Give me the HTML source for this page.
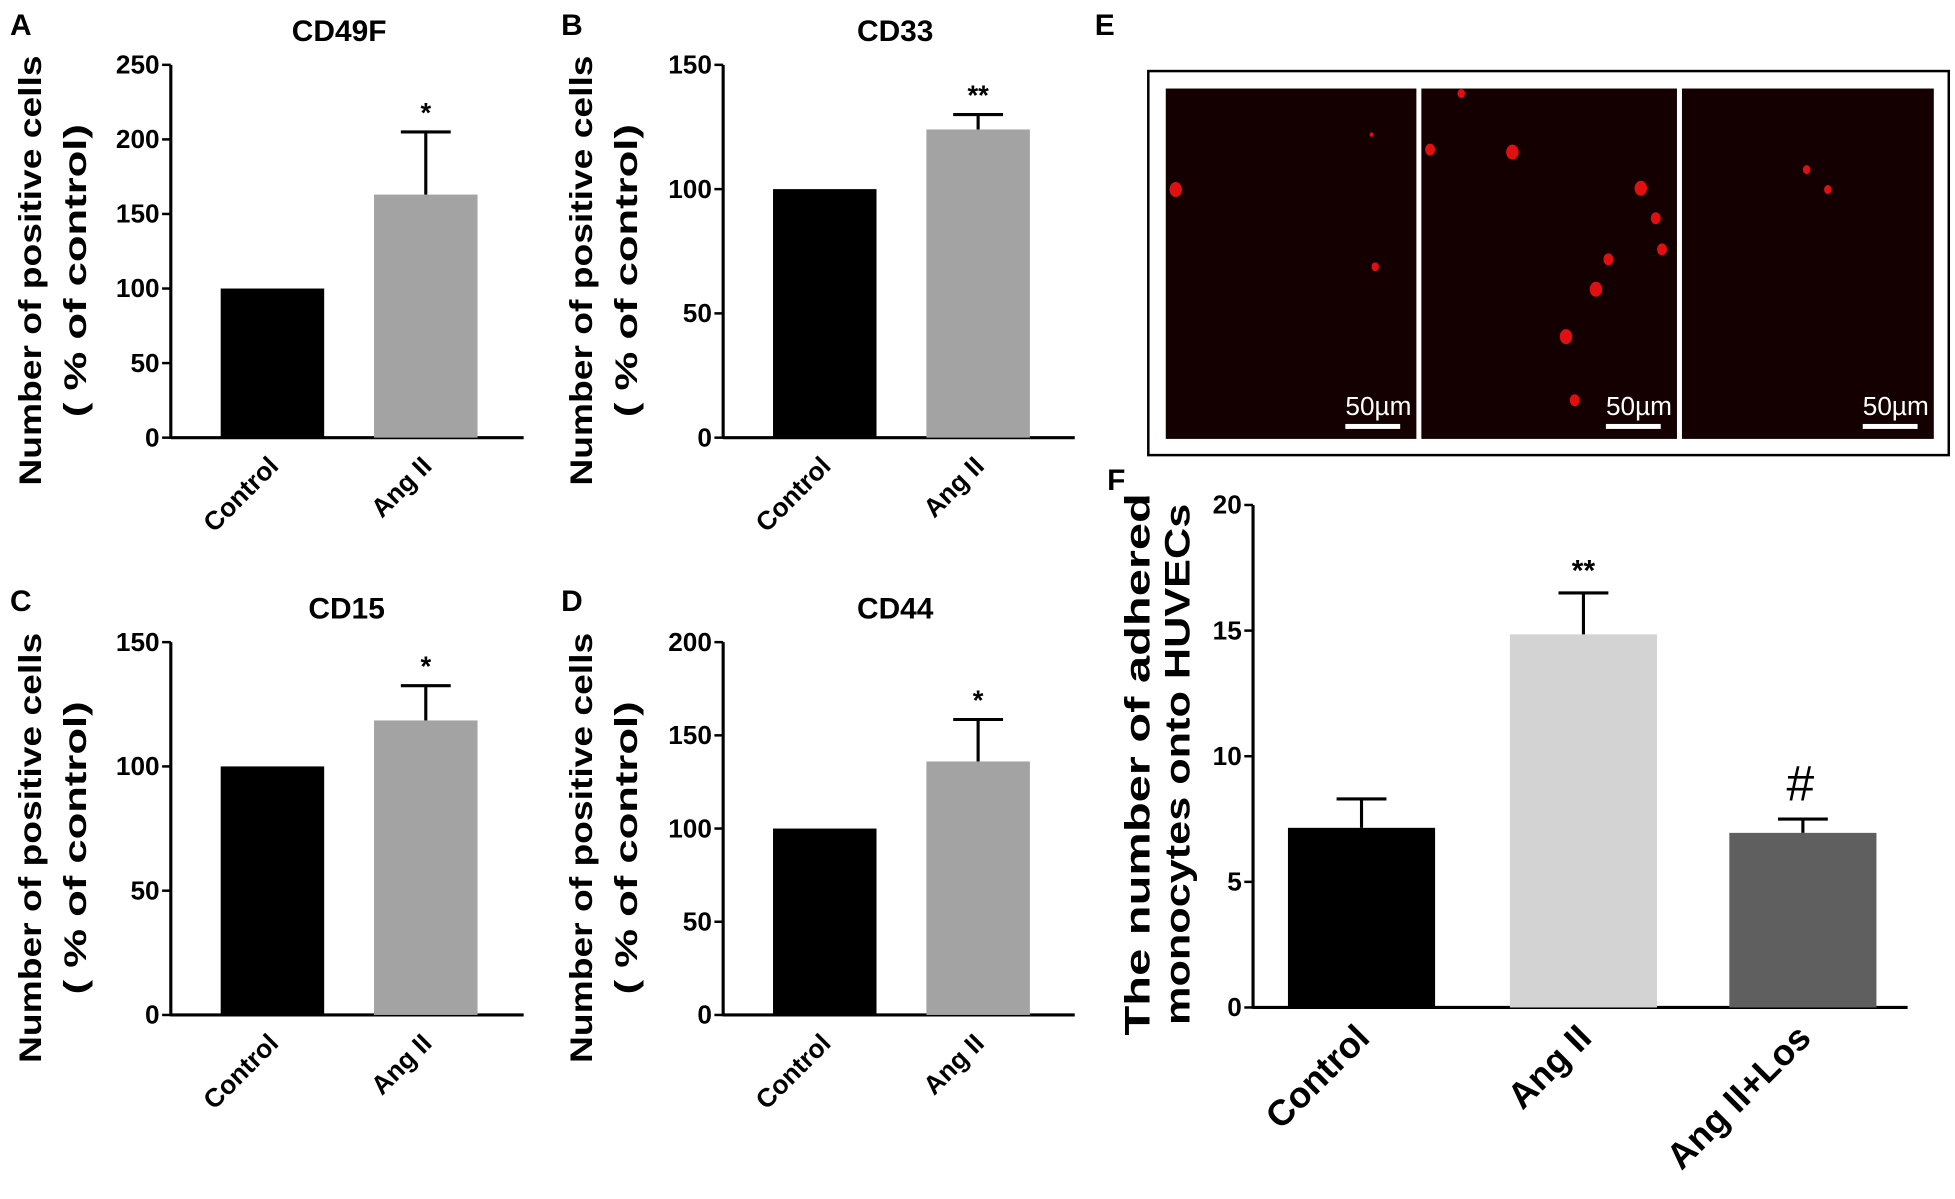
<!DOCTYPE html>
<html><head><meta charset="utf-8"><style>
html,body{margin:0;padding:0;background:#fff;}
svg{display:block;font-family:"Liberation Sans",Arial,sans-serif;font-weight:bold;}
</style></head><body>
<svg id="fig" width="1955" height="1199" viewBox="0 0 1568 961.6" preserveAspectRatio="none">
<g id="panelE">
<rect x="921" y="57" width="642" height="308" fill="none" stroke="#000" stroke-width="2"/>
</g>
</svg>
<script>
// ---- data ----
const catsAB = ["Control", "Ang II"];
const valsA = [100, 163];
const errA = [0, 205];
const ticksA = [0, 50, 100, 150, 200, 250];
const valsB = [100, 124];
const errB = [0, 130];
const ticksB = [0, 50, 100, 150];
const valsC = [100, 118.5];
const errC = [0, 132.5];
const ticksC = [0, 50, 100, 150];
const valsD = [100, 136];
const errD = [0, 158.5];
const ticksD = [0, 50, 100, 150, 200];
const catsF = ["Control", "Ang II", "Ang II+Los"];
const valsF = [7.15, 14.85, 6.95];
const errF = [8.3, 16.5, 7.5];
const ticksF = [0, 5, 10, 15, 20];

const NS = "http://www.w3.org/2000/svg";
const svg = document.getElementById('fig');
function mk(tag, attrs, parent, text) {
  const e = document.createElementNS(NS, tag);
  for (const k in attrs) e.setAttribute(k, attrs[k]);
  if (text !== undefined) e.textContent = text;
  (parent || svg).appendChild(e);
  return e;
}

function panel(o) {
  const g = mk('g', {});
  
  
  const y = v => o.y0 - (v / o.max) * (o.y0 - o.y1);
  const l = mk('text', {x: o.lx, y: o.ly, 'font-size': 24}, g, o.letter);
  
  
  if (o.title) {
    const t = mk('text', {x: o.tx, y: o.ty, 'font-size': 24, 'text-anchor': 'middle'}, g, o.title);
    
    
  }
  const ya = mk('line', {x1: o.ax, x2: o.ax, y1: o.y1, y2: o.y0 + 1, stroke: '#000', 'stroke-width': 2.5}, g);
  
  
  const xa = mk('line', {x1: o.ax, x2: o.xend, y1: o.y0, y2: o.y0, stroke: '#000', 'stroke-width': 2.5}, g);
  
  
  o.ticks.forEach(t => {
    const tl = mk('line', {x1: o.ax - 7, x2: o.ax, y1: y(t), y2: y(t), stroke: '#000', 'stroke-width': 2}, g);
    
    
    const tt = mk('text', {x: o.ax - 9, y: y(t) + 7, 'font-size': o.tfs, 'text-anchor': 'end'}, g, String(t));
    
    
  });
  o.vals.forEach((v, i) => {
    const bx = o.bx[i];
    const r = mk('rect', {x: bx, y: y(v), width: o.bw, height: o.y0 - y(v), fill: o.colors[i]}, g);
    
    
    if (o.err[i] > v) {
      const cx = bx + o.bw / 2;
      const e1 = mk('line', {x1: cx, x2: cx, y1: y(o.err[i]), y2: y(v), stroke: '#000', 'stroke-width': 2.5}, g);
      
      
      const e2 = mk('line', {x1: cx - o.cap, x2: cx + o.cap, y1: y(o.err[i]), y2: y(o.err[i]), stroke: '#000', 'stroke-width': 2.5}, g);
      
      
    }
    if (o.sig[i]) {
      const s = mk('text', {x: bx + o.bw / 2, y: y(o.err[i]) - o.sigOff, 'font-size': o.sigfs, 'text-anchor': 'middle'}, g, o.sig[i]);
      
      
    }
    const cx = bx + o.bw / 2 + o.lblDx;
    const ly = o.y0 + o.lblDy;
    const xl = mk('text', {x: cx, y: ly, 'font-size': o.xfs, 'text-anchor': 'end', transform: `rotate(-45 ${cx} ${ly})`}, g, o.cats[i]);
    
    
  });
  o.ylab.forEach((s, k) => {
    const x = o.ylx + k * o.yldx, yy = o.yly;
    const yl = mk('text', {x: x, y: yy, 'font-size': o.yfs, 'text-anchor': 'middle', textLength: o.ylen[k], lengthAdjust: 'spacingAndGlyphs', transform: `rotate(-90 ${x} ${yy})`}, g, s);
    
    
  });
}

const g2 = ['#000', '#a3a3a3'];
const base = {bw: 83, cap: 20, tfs: 21, xfs: 21, yfs: 25, sigfs: 22, sigOff: 8, lblDx: 6, lblDy: 24, yldx: 36, ylen: [345, 235], ylab: ["Number of positive cells", "( %  of control)"], colors: g2, cats: catsAB, sig: ['', '*']};
panel(Object.assign({}, base, {name: 'panel-a-cd49f', letter: 'A', lx: 8, ly: 28, title: 'CD49F', tx: 272, ty: 33, ax: 137, xend: 420, y0: 351, y1: 52, max: 250, ticks: ticksA, vals: valsA, err: errA, bx: [177, 300], ylx: 33, yly: 217}));
panel(Object.assign({}, base, {name: 'panel-b-cd33', letter: 'B', lx: 450, ly: 28, title: 'CD33', tx: 718, ty: 33, ax: 580, xend: 862, y0: 351, y1: 52, max: 150, ticks: ticksB, vals: valsB, err: errB, bx: [620, 743], ylx: 475, yly: 217, sig: ['', '**']}));
panel(Object.assign({}, base, {name: 'panel-c-cd15', letter: 'C', lx: 8, ly: 490, title: 'CD15', tx: 278, ty: 496, ax: 137, xend: 420, y0: 814, y1: 515, max: 150, ticks: ticksC, vals: valsC, err: errC, bx: [177, 300], ylx: 33, yly: 680}));
panel(Object.assign({}, base, {name: 'panel-d-cd44', letter: 'D', lx: 450, ly: 490, title: 'CD44', tx: 718, ty: 496, ax: 580, xend: 862, y0: 814, y1: 515, max: 200, ticks: ticksD, vals: valsD, err: errD, bx: [620, 743], ylx: 475, yly: 680}));
panel({name: 'panel-f-adhered-monocytes', letter: 'F', lx: 888, ly: 393, ax: 1005, xend: 1530, y0: 808, y1: 405, max: 20, ticks: ticksF, vals: valsF, err: errF, bx: [1033, 1211, 1387], bw: 118, cap: 20, tfs: 21, xfs: 29, yfs: 28, sigfs: 24, sigOff: 10, lblDx: 8, lblDy: 26, colors: ['#000', '#d3d3d3', '#5f5f5f'], cats: catsF, sig: ['', '**', ''], ylab: ["The number of adhered", "monocytes onto HUVECs"], ylx: 922, yldx: 32, ylen: [435, 418], yly: 613});
const hash = mk('text', {x: 1444, y: 642, 'font-size': 40, 'font-weight': 'normal', 'text-anchor': 'middle'}, svg, '#');



// panel E micrographs
const gE = document.getElementById('panelE');
const lE = mk('text', {x: 878, y: 28, 'font-size': 24}, gE, 'E');


const imgX = [935, 1140, 1349], imgW = [201, 205, 202];
const spots = [
  [[943, 152, 5], [1103, 214, 3], [1100, 108, 1.5]],
  [[1147, 120, 4], [1213, 122, 5], [1316, 151, 5], [1328, 175, 4], [1333, 200, 4], [1290, 208, 4], [1280, 232, 5], [1256, 270, 5], [1263, 321, 4], [1172, 75, 3]],
  [[1449, 136, 3], [1466, 152, 3]]
];
imgX.forEach((x, i) => {
  const r = mk('rect', {x: x, y: 71, width: imgW[i], height: 281, fill: '#140000'}, gE);
  
  
  spots[i].forEach(s => {
    const c = mk('ellipse', {cx: s[0], cy: s[1], rx: s[2], ry: s[2] * 1.2, fill: '#e01010'}, gE);
    
    
  });
  const t = mk('text', {x: x + imgW[i] - 4, y: 333, 'font-size': 21, 'font-weight': 'normal', fill: '#fff', 'text-anchor': 'end'}, gE, '50µm');
  
  
  const b = mk('rect', {x: x + imgW[i] - 57, y: 340, width: 44, height: 4, fill: '#fff'}, gE);
  
  
});
</script>
</body></html>
